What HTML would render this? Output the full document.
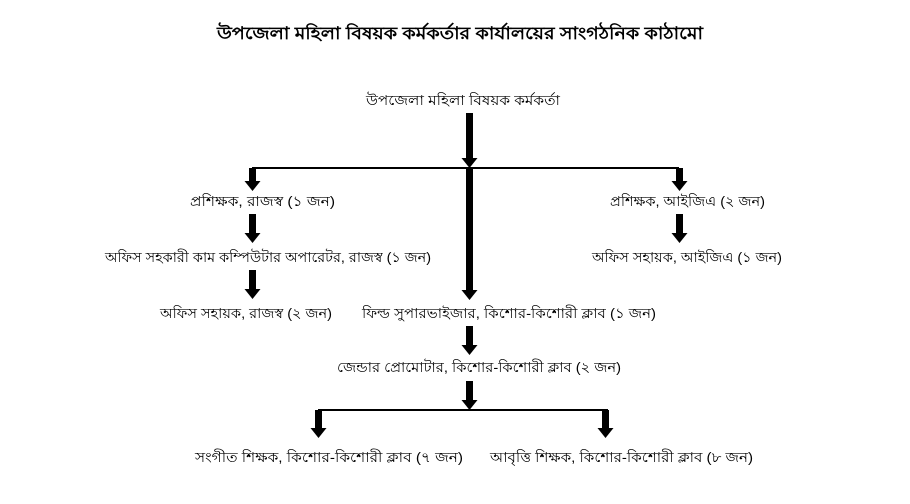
<!DOCTYPE html>
<html><head><meta charset="utf-8"><style>
html,body{margin:0;padding:0;background:#fff;width:910px;height:504px;overflow:hidden}
svg text{font-family:"Liberation Sans","Noto Sans CJK SC",sans-serif;font-size:14px;fill:#000}
</style></head><body>
<svg width="910" height="504" viewBox="0 0 910 504" xmlns="http://www.w3.org/2000/svg">
<defs>
<g id="ah"><polygon points="-8,0 8,0 0,10" fill="#000"/></g>
</defs>
<text x="217" y="39" textLength="486" lengthAdjust="spacingAndGlyphs" style="font-weight:bold;font-size:17px">উপজেলা মহিলা বিষয়ক কর্মকর্তার কার্যালয়ের সাংগঠনিক কাঠামো</text>
<text x="366" y="105" textLength="194" lengthAdjust="spacingAndGlyphs">উপজেলা মহিলা বিষয়ক কর্মকর্তা</text>

<!-- central -->
<rect x="466" y="113" width="7" height="46" fill="#000"/>
<use href="#ah" x="469.5" y="158"/>
<rect x="466" y="168" width="7" height="124" fill="#000"/>
<use href="#ah" x="469.5" y="290"/>
<line x1="252" y1="168" x2="679" y2="168" stroke="#000" stroke-width="2"/>
<!-- left branch -->
<rect x="249" y="168" width="7" height="15" fill="#000"/><use href="#ah" x="252.5" y="181"/>
<rect x="676" y="168" width="7" height="15" fill="#000"/><use href="#ah" x="679.5" y="181"/>
<text x="190" y="206" textLength="145" lengthAdjust="spacingAndGlyphs">প্রশিক্ষক, রাজস্ব (১ জন)</text>
<text x="610" y="206" textLength="155" lengthAdjust="spacingAndGlyphs">প্রশিক্ষক, আইজিএ (২ জন)</text>
<rect x="249" y="214" width="7" height="20" fill="#000"/><use href="#ah" x="252.5" y="233"/>
<rect x="676" y="214" width="7" height="20" fill="#000"/><use href="#ah" x="679.5" y="233"/>
<text x="105" y="262" textLength="326" lengthAdjust="spacingAndGlyphs">অফিস সহকারী কাম কম্পিউটার অপারেটর, রাজস্ব (১ জন)</text>
<text x="592" y="262" textLength="190" lengthAdjust="spacingAndGlyphs">অফিস সহায়ক, আইজিএ (১ জন)</text>
<rect x="249" y="270" width="7" height="20" fill="#000"/><use href="#ah" x="252.5" y="289"/>
<text x="160" y="318" textLength="172" lengthAdjust="spacingAndGlyphs">অফিস সহায়ক, রাজস্ব (২ জন)</text>
<text x="362" y="318" textLength="294" lengthAdjust="spacingAndGlyphs">ফিল্ড সুপারভাইজার, কিশোর-কিশোরী ক্লাব (১ জন)</text>
<rect x="466" y="326" width="7" height="20" fill="#000"/><use href="#ah" x="469.5" y="345"/>
<text x="337" y="372" textLength="284" lengthAdjust="spacingAndGlyphs">জেন্ডার প্রোমোটার, কিশোর-কিশোরী ক্লাব (২ জন)</text>
<rect x="466" y="381" width="7" height="20" fill="#000"/><use href="#ah" x="469.5" y="400"/>
<line x1="318" y1="410" x2="608" y2="410" stroke="#000" stroke-width="2"/>
<rect x="315" y="410" width="7" height="19" fill="#000"/><use href="#ah" x="318.5" y="428"/>
<rect x="602" y="410" width="7" height="19" fill="#000"/><use href="#ah" x="605.5" y="428"/>
<text x="195" y="462" textLength="268" lengthAdjust="spacingAndGlyphs">সংগীত শিক্ষক, কিশোর-কিশোরী ক্লাব (৭ জন)</text>
<text x="490" y="462" textLength="263" lengthAdjust="spacingAndGlyphs">আবৃত্তি শিক্ষক, কিশোর-কিশোরী ক্লাব (৮ জন)</text>
</svg>
</body></html>
